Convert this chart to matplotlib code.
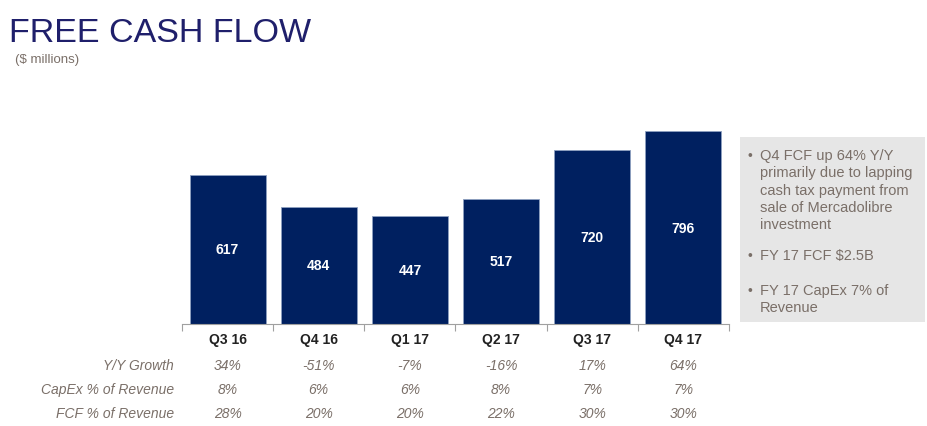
import matplotlib
matplotlib.use('Agg')
import matplotlib.pyplot as plt
from matplotlib.patches import Rectangle

plt.rcParams['font.family'] = ['Liberation Sans', 'DejaVu Sans']

quarters = ['Q3 16', 'Q4 16', 'Q1 17', 'Q2 17', 'Q3 17', 'Q4 17']
fcf = [617, 484, 447, 517, 720, 796]
row_names = ['Y/Y Growth', 'CapEx % of Revenue', 'FCF % of Revenue']
yy_growth = ['34%', '-51%', '-7%', '-16%', '17%', '64%']
capex_pct = ['8%', '6%', '6%', '8%', '7%', '7%']
fcf_pct = ['28%', '20%', '20%', '22%', '30%', '30%']
rows = [yy_growth, capex_pct, fcf_pct]
notes = [
    'Q4 FCF up 64% Y/Y\nprimarily due to lapping\ncash tax payment from\nsale of Mercadolibre\ninvestment',
    'FY 17 FCF $2.5B',
    'FY 17 CapEx 7% of\nRevenue',
]

navy = '#002060'
grey_txt = '#7a6f68'
W, H = 928, 427

fig = plt.figure(figsize=(W / 100, H / 100), dpi=100)
ax = fig.add_axes([182 / W, 1 - 325 / H, (729 - 182) / W, 0.4817])

x = list(range(len(quarters)))
bars = ax.bar(x, fcf, width=0.835, color=navy, edgecolor='#8ea0c0', linewidth=0.6)
for xi, v in zip(x, fcf):
    ax.text(xi, v / 2, str(v), ha='center', va='center', color='white',
            fontsize=10, fontweight='bold')

ax.set_xlim(-0.5, 5.5)
ax.set_ylim(0, 850)
ax.set_yticks([])
for s in ['top', 'right', 'left']:
    ax.spines[s].set_visible(False)
ax.spines['bottom'].set_color('#a0a0a0')
ax.set_xticks([i - 0.5 for i in range(len(quarters) + 1)])
ax.set_xticklabels([])
ax.tick_params(axis='x', length=5, color='#a0a0a0', direction='out')

# quarter labels and table rows
for xi, q in zip(x, quarters):
    ax.text(xi, -15 / 0.242, q, ha='center', va='center', fontsize=10,
            fontweight='bold', color='#222222')
row_y = [366, 390, 414]
for name, vals, py in zip(row_names, rows, row_y):
    fig.text(174 / W, 1 - py / H, name, ha='right', va='center', fontsize=10,
             style='italic', color=grey_txt)
    for xi, v in zip(x, vals):
        ax.text(xi, -(py - 325) / 0.242, v, ha='center', va='center',
                fontsize=10, style='italic', color=grey_txt, clip_on=False)

# title
fig.text(9 / W, 1 - 33 / H, 'FREE CASH FLOW', fontsize=24.5, color='#1f1f6b',
         ha='left', va='center')
fig.text(15 / W, 1 - 60 / H, '($ millions)', fontsize=9.5, color=grey_txt,
         ha='left', va='center')

# side note box
fig.patches.append(Rectangle((740 / W, 1 - 323 / H), 185 / W, 185 / H,
                             transform=fig.transFigure, facecolor='#e6e6e6',
                             edgecolor='none'))
note_y = [149, 249, 284]
for n, py in zip(notes, note_y):
    fig.text(748 / W, 1 - py / H, '•', fontsize=10, color=grey_txt,
             ha='left', va='top')
    fig.text(760 / W, 1 - py / H, n, fontsize=10.5, color=grey_txt,
             ha='left', va='top', linespacing=1.3)

fig.savefig('out.png', dpi=100)
plt.close(fig)
